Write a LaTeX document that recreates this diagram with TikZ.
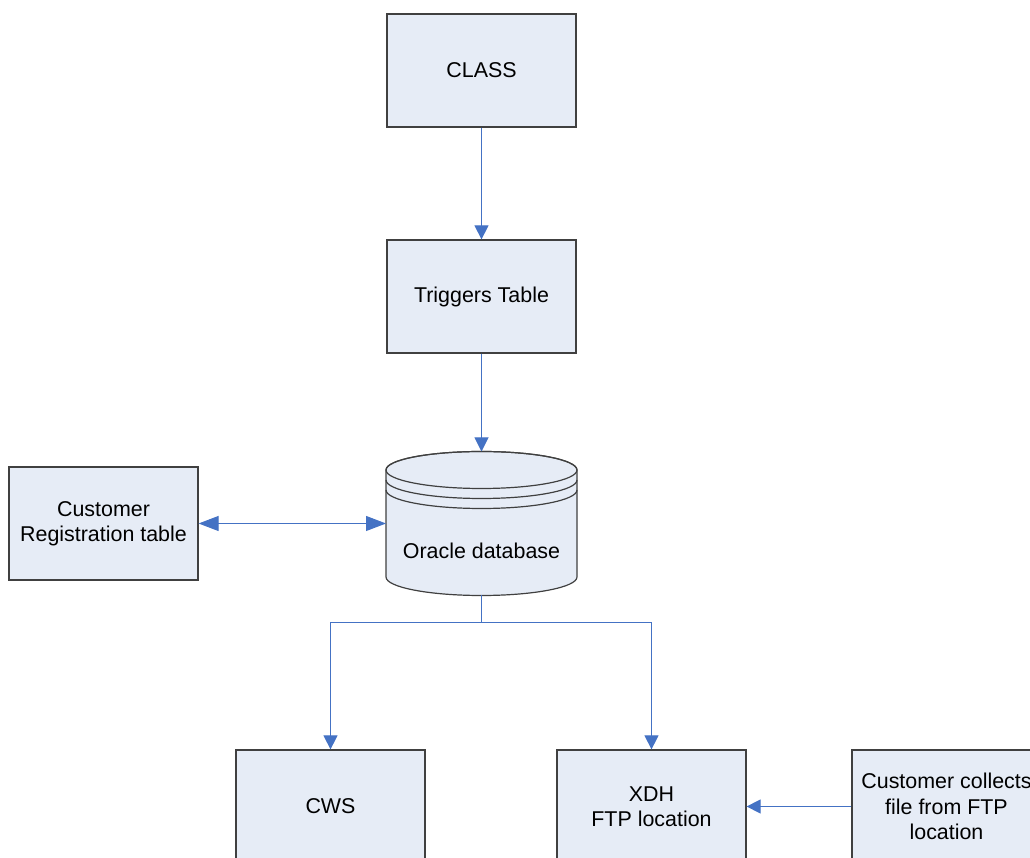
\documentclass[tikz,border=0pt]{standalone}
\usepackage{fontspec}
\setmainfont{Liberation Sans}
\usetikzlibrary{arrows.meta}
\definecolor{boxfill}{HTML}{E6ECF6}
\definecolor{boxline}{HTML}{404040}
\definecolor{flow}{HTML}{4472C4}
\tikzset{
  labeltext/.style={font=\fontsize{21.5}{25.5}\selectfont},
  procbox/.style={labeltext, draw=boxline, line width=1.2bp, fill=boxfill, minimum width=189bp,
    minimum height=113bp, align=center, inner sep=2bp},
  flowline/.style={draw=flow, line width=1bp},
  flowarrow/.style={flowline, -{Triangle[length=14bp,width=14bp]}},
  biarrow/.style={flowline, {Triangle[length=20bp,width=15bp]}-{Triangle[length=20bp,width=15bp]}}
}
\begin{document}
\begin{tikzpicture}[x=1bp,y=1bp]
\useasboundingbox (0,0) rectangle (1030,858);
\begin{scope}
\clip (0,0) rectangle (1030,858);
% process boxes
\node[procbox] (class) at (481.5,787.5) {CLASS};
\node[procbox] (trig) at (481.5,561.5) {Triggers Table};
\node[procbox] (custreg) at (103.5,334.5) {Customer\\Registration table};
\node[procbox] (cws) at (330.5,51.5) {CWS};
\node[procbox] (xdh) at (651.5,51.5) {XDH\\FTP location};
\node[procbox] (collect) at (946.5,51.5) {Customer collects\\file from FTP\\location};

% database cylinder
\def\cx{481.5}\def\rx{95.5}\def\ry{18.5}
\coordinate (dbtop) at (\cx,388+\ry);
\coordinate (dbbot) at (\cx,281-\ry);
\coordinate (dbleft) at (\cx-\rx,334.5);
\filldraw[fill=boxfill, draw=boxline, line width=1.2bp]
  (\cx-\rx,388) -- (\cx-\rx,281)
  arc[start angle=180, end angle=360, x radius=\rx, y radius=\ry]
  -- (\cx+\rx,388)
  arc[start angle=0, end angle=180, x radius=\rx, y radius=\ry];
\draw[boxline, line width=1.2bp] (\cx,388) ellipse[x radius=\rx, y radius=\ry];
\draw[boxline, line width=1.2bp] (\cx-\rx,378)
  arc[start angle=180, end angle=360, x radius=\rx, y radius=\ry];
\draw[boxline, line width=1.2bp] (\cx-\rx,368)
  arc[start angle=180, end angle=360, x radius=\rx, y radius=\ry];
\node[labeltext] (db) at (\cx,307) {Oracle database};

% connectors
\draw[flowarrow] (class.south) -- (trig.north);
\draw[flowarrow] (trig.south) -- (dbtop);
\draw[biarrow] (custreg.east) -- (dbleft);
\coordinate (split) at (\cx,235);
\draw[flowline] (dbbot) -- (split);
\draw[flowarrow] (split) -| (cws.north);
\draw[flowarrow] (split) -| (xdh.north);
\draw[flowarrow] (collect.west) -- (xdh.east);
\end{scope}
\end{tikzpicture}
\end{document}
